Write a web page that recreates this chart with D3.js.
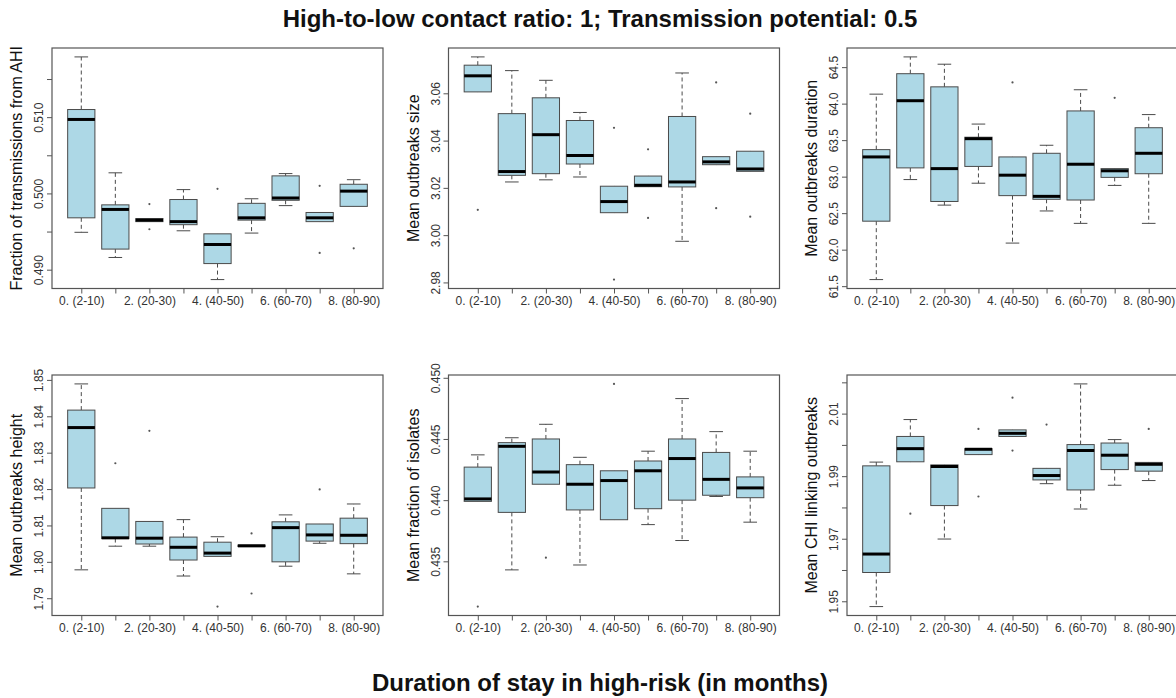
<!DOCTYPE html>
<html>
<head>
<meta charset="utf-8">
<script src="https://cdn.jsdelivr.net/npm/d3@7"></script>
<style>
  html, body { margin: 0; padding: 0; background: #fff; }
  svg { display: block; font-family: "Liberation Sans", Arial, Helvetica, sans-serif; }
</style>
</head>
<body>
<svg id="chart" width="1176" height="698"></svg>
<script>
// Duration-of-stay groups (x axis); odd groups keep a tick but no label
const categories = ["0. (2-10)", "1. (10-20)", "2. (20-30)", "3. (30-40)", "4. (40-50)",
                    "5. (50-60)", "6. (60-70)", "7. (70-80)", "8. (80-90)"];

// Five-number summaries per group: [lower whisker, Q1, median, Q3, upper whisker]
const ahiStats = [
  [0.4949, 0.4968, 0.5097, 0.5110, 0.5179],
  [0.4916, 0.4927, 0.4979, 0.4985, 0.5027],
  [0.4963, 0.4963, 0.4965, 0.4967, 0.4967],
  [0.4951, 0.4959, 0.4963, 0.4992, 0.5005],
  [0.4887, 0.4908, 0.4933, 0.4947, 0.4947],
  [0.4948, 0.4965, 0.4968, 0.4987, 0.4993],
  [0.4984, 0.4991, 0.4994, 0.5023, 0.5026],
  [0.4963, 0.4963, 0.4968, 0.4975, 0.4975],
  [0.4983, 0.4983, 0.5003, 0.5012, 0.5018]
];
const ahiOutliers = [[2, 0.4986], [2, 0.4953], [4, 0.5006], [7, 0.5010], [7, 0.4922], [8, 0.4928]];

const sizeStats = [
  [3.0606, 3.0606, 3.0674, 3.0719, 3.0754],
  [3.0225, 3.0253, 3.0269, 3.0514, 3.0696],
  [3.0234, 3.0260, 3.0425, 3.0581, 3.0655],
  [3.0246, 3.0301, 3.0337, 3.0485, 3.0519],
  [3.0095, 3.0095, 3.0142, 3.0207, 3.0207],
  [3.0205, 3.0205, 3.0211, 3.0250, 3.0250],
  [2.9974, 3.0204, 3.0225, 3.0502, 3.0686],
  [3.0298, 3.0298, 3.0310, 3.0332, 3.0332],
  [3.0270, 3.0270, 3.0280, 3.0355, 3.0355]
];
const sizeOutliers = [[0, 3.0107], [4, 3.0454], [4, 2.9812], [5, 3.0363], [5, 3.0073],
                      [7, 3.0646], [7, 3.0114], [8, 3.0514], [8, 3.0078]];

const durationStats = [
  [61.59, 62.39, 63.27, 63.37, 64.13],
  [62.96, 63.12, 64.04, 64.41, 64.64],
  [62.61, 62.66, 63.11, 64.23, 64.54],
  [62.91, 63.14, 63.52, 63.54, 63.72],
  [62.09, 62.74, 63.02, 63.27, 63.27],
  [62.53, 62.69, 62.73, 63.32, 63.43],
  [62.36, 62.68, 63.17, 63.90, 64.19],
  [62.88, 62.99, 63.08, 63.11, 63.11],
  [62.36, 63.04, 63.32, 63.67, 63.85]
];
const durationOutliers = [[4, 64.29], [7, 64.08]];

const heightStats = [
  [1.7978, 1.8203, 1.8369, 1.8417, 1.8489],
  [1.8043, 1.8064, 1.8066, 1.8147, 1.8147],
  [1.8043, 1.8049, 1.8065, 1.8111, 1.8111],
  [1.7961, 1.8005, 1.8040, 1.8068, 1.8116],
  [1.8015, 1.8015, 1.8024, 1.8054, 1.8069],
  [1.8042, 1.8042, 1.8044, 1.8046, 1.8046],
  [1.7988, 1.8000, 1.8094, 1.8110, 1.8129],
  [1.8051, 1.8057, 1.8074, 1.8104, 1.8104],
  [1.7967, 1.8050, 1.8073, 1.8120, 1.8159]
];
const heightOutliers = [[1, 1.8271], [2, 1.8360], [4, 1.7877], [5, 1.8078], [5, 1.7913], [7, 1.8199]];

const isolateStats = [
  [0.4399, 0.4399, 0.4401, 0.4427, 0.4437],
  [0.4343, 0.4390, 0.4444, 0.4447, 0.4451],
  [0.4413, 0.4413, 0.4423, 0.4450, 0.4462],
  [0.4347, 0.4392, 0.4413, 0.4429, 0.4435],
  [0.4384, 0.4384, 0.4416, 0.4424, 0.4424],
  [0.4380, 0.4393, 0.4424, 0.4432, 0.4440],
  [0.4367, 0.4400, 0.4434, 0.4450, 0.4483],
  [0.4403, 0.4404, 0.4417, 0.4439, 0.4456],
  [0.4382, 0.4402, 0.4410, 0.4419, 0.4440]
];
const isolateOutliers = [[0, 0.4313], [2, 0.4353], [4, 0.4495]];

const chiStats = [
  [1.9483, 1.9592, 1.9651, 1.9933, 1.9945],
  [1.9946, 1.9946, 1.9988, 2.0027, 2.0081],
  [1.9699, 1.9806, 1.9931, 1.9936, 1.9936],
  [1.9969, 1.9969, 1.9986, 1.9988, 1.9988],
  [2.0027, 2.0027, 2.0037, 2.0048, 2.0048],
  [1.9876, 1.9888, 1.9902, 1.9925, 1.9925],
  [1.9795, 1.9856, 1.9982, 2.0001, 2.0195],
  [1.9871, 1.9921, 1.9967, 2.0006, 2.0017],
  [1.9886, 1.9916, 1.9938, 1.9944, 1.9944]
];
const chiOutliers = [[1, 1.9780], [3, 2.0051], [3, 1.9835], [4, 2.0151], [4, 1.9982], [5, 2.0065], [8, 2.0051]];

// Y tick positions and the subset that carries a label
const ahiTicks = [0.490, 0.495, 0.500, 0.505, 0.510, 0.515];
const ahiTickLabels = [0.490, 0.500, 0.510];
const sizeTicks = [2.98, 3.00, 3.02, 3.04, 3.06];
const durationTicks = [61.5, 62.0, 62.5, 63.0, 63.5, 64.0, 64.5];
const heightTicks = [1.79, 1.80, 1.81, 1.82, 1.83, 1.84, 1.85];
const isolateTicks = [0.435, 0.440, 0.445, 0.450];
const chiTicks = [1.95, 1.96, 1.97, 1.98, 1.99, 2.00, 2.01, 2.02];
const chiTickLabels = [1.95, 1.97, 1.99, 2.01];

const panels = [
  { title: "Fraction of transmissions from AHI", stats: ahiStats, outliers: ahiOutliers,
    ticks: ahiTicks, labels: ahiTickLabels, fmt: ".3f", col: 0, row: 0 },
  { title: "Mean outbreaks size", stats: sizeStats, outliers: sizeOutliers,
    ticks: sizeTicks, labels: sizeTicks, fmt: ".2f", col: 1, row: 0 },
  { title: "Mean outbreaks duration", stats: durationStats, outliers: durationOutliers,
    ticks: durationTicks, labels: durationTicks, fmt: ".1f", col: 2, row: 0 },
  { title: "Mean outbreaks height", stats: heightStats, outliers: heightOutliers,
    ticks: heightTicks, labels: heightTicks, fmt: ".2f", col: 0, row: 1 },
  { title: "Mean fraction of isolates", stats: isolateStats, outliers: isolateOutliers,
    ticks: isolateTicks, labels: isolateTicks, fmt: ".3f", col: 1, row: 1 },
  { title: "Mean CHI linking outbreaks", stats: chiStats, outliers: chiOutliers,
    ticks: chiTicks, labels: chiTickLabels, fmt: ".2f", col: 2, row: 1 }
];

const svg = d3.select("#chart");
svg.append("rect").attr("width", 1176).attr("height", 698).attr("fill", "#fff");

const colLeft = [52, 448.5, 847];
const rowTop = [48, 375];
const plotW = 331, plotH = 240.5;
const boxFill = "#add8e6", lineCol = "#4a4a4a";
const fontStack = '"Liberation Sans", Arial, sans-serif';

panels.forEach(p => {
  const left = colLeft[p.col], top = rowTop[p.row];
  const g = svg.append("g");

  // value range extended by 4% on each side
  const values = p.stats.flat().concat(p.outliers.map(o => o[1]));
  const lo = d3.min(values), hi = d3.max(values), pad = (hi - lo) * 0.04;
  const y = d3.scaleLinear().domain([lo - pad, hi + pad]).range([top + plotH, top]);
  const n = categories.length;
  const x = d3.scaleLinear().domain([0.5 - n * 0.04, n + 0.5 + n * 0.04])
              .range([left, left + plotW]);

  // boxes
  p.stats.forEach((s, i) => {
    const cx = x(i + 1), hw = x(i + 1.4) - cx, cw = x(i + 1.2) - cx;
    const [wLo, q1, med, q3, wHi] = s;
    // dashed whiskers
    g.append("line").attr("x1", cx).attr("x2", cx).attr("y1", y(q3)).attr("y2", y(wHi))
      .attr("stroke", lineCol).attr("stroke-dasharray", "4,3");
    g.append("line").attr("x1", cx).attr("x2", cx).attr("y1", y(q1)).attr("y2", y(wLo))
      .attr("stroke", lineCol).attr("stroke-dasharray", "4,3");
    // staples
    [wLo, wHi].forEach(v => {
      if (v === q1 || v === q3) return;
      g.append("line").attr("x1", cx - cw).attr("x2", cx + cw).attr("y1", y(v)).attr("y2", y(v))
        .attr("stroke", lineCol);
    });
    g.append("rect").attr("x", cx - hw).attr("width", 2 * hw)
      .attr("y", y(q3)).attr("height", Math.max(0.5, y(q1) - y(q3)))
      .attr("fill", boxFill).attr("stroke", lineCol).attr("stroke-width", 1);
    g.append("line").attr("x1", cx - hw).attr("x2", cx + hw).attr("y1", y(med)).attr("y2", y(med))
      .attr("stroke", "#000").attr("stroke-width", 3);
  });

  // outliers
  g.selectAll("circle.out").data(p.outliers).join("circle")
    .attr("cx", d => x(d[0] + 1)).attr("cy", d => y(d[1])).attr("r", 1.1)
    .attr("fill", "#555");

  // plot frame
  g.append("rect").attr("x", left).attr("y", top).attr("width", plotW).attr("height", plotH)
    .attr("fill", "none").attr("stroke", "#555").attr("stroke-width", 1.2);

  // x axis
  const xAxis = d3.axisBottom(x).tickValues(d3.range(1, n + 1)).tickSize(5).tickPadding(3)
    .tickFormat(d => (d - 1) % 2 === 0 ? categories[d - 1] : "");
  const xa = g.append("g").attr("transform", `translate(0,${top + plotH})`).call(xAxis);
  xa.select(".domain").remove();
  xa.selectAll("line").attr("stroke", "#555");
  xa.selectAll("text").attr("fill", "#333").style("font-size", "12px")
    .style("font-family", fontStack);

  // y axis with labels parallel to the axis
  const fmt = d3.format(p.fmt);
  const yAxis = d3.axisLeft(y).tickValues(p.ticks).tickSize(5)
    .tickFormat(d => p.labels.some(l => Math.abs(l - d) < 1e-9) ? fmt(d) : "");
  const ya = g.append("g").attr("transform", `translate(${left},0)`).call(yAxis);
  ya.select(".domain").remove();
  ya.selectAll("line").attr("stroke", "#555");
  ya.selectAll("text").attr("x", null).attr("dy", null).attr("fill", "#333")
    .attr("text-anchor", "middle").attr("transform", "translate(-9,0) rotate(-90)")
    .style("font-size", "12px").style("font-family", fontStack);

  // y title
  g.append("text").attr("transform", `translate(${left - 30},${top + plotH / 2}) rotate(-90)`)
    .attr("text-anchor", "middle").attr("fill", "#111").style("font-size", "16px")
    .text(p.title);
});

svg.append("text").attr("x", 600).attr("y", 27).attr("text-anchor", "middle")
  .style("font-size", "24px").style("font-weight", "bold").attr("fill", "#111")
  .text("High-to-low contact ratio: 1; Transmission potential: 0.5");
svg.append("text").attr("x", 600).attr("y", 691).attr("text-anchor", "middle")
  .style("font-size", "24px").style("font-weight", "bold").attr("fill", "#111")
  .text("Duration of stay in high-risk (in months)");
</script>
</body>
</html>
